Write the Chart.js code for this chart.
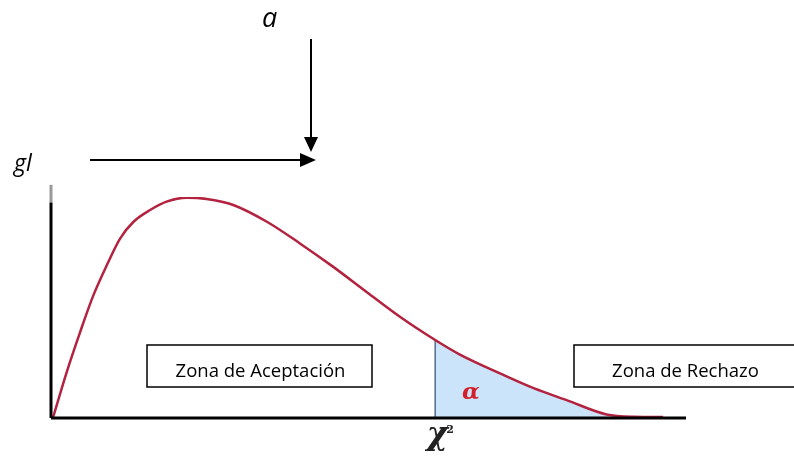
<!DOCTYPE html>
<html>
<head>
<meta charset="utf-8">
<script src="https://cdn.jsdelivr.net/npm/chart.js@4.4.1/dist/chart.umd.min.js"></script>
<style>
  html, body { margin: 0; padding: 0; background: #fff; }
  #chi { display: block; }
</style>
</head>
<body>
<canvas id="chi" width="794" height="456"></canvas>
<script>
// Curva chi-cuadrado (escala 0-100)
const curveX = [0.3, 2.5, 4.6, 6.7, 8.8, 10.9, 13.0, 15.6, 18.2, 21.4, 24.5, 28.7, 34.0, 39.2, 44.4, 49.8, 55.0, 60.5, 64.4, 70.7, 76.0, 81.2, 87.5, 91.7, 96.4];
const curveY = [0, 21.0, 39.0, 55.7, 69.2, 81.3, 88.8, 94.1, 97.9, 99.7, 99.1, 96.4, 88.8, 79.0, 68.5, 56.8, 45.7, 35.3, 28.7, 20.2, 13.5, 8.1, 1.6, 0.6, 0.5];

// Valor critico
const critX = 60.5;
const critY = 35.3;

// Ejes
const axisXEnd = 100;
const axisYTop = 105.5;
const axisYBlackTop = 97.5;

// Textos
const zoneLabels = ['Zona de Aceptación', 'Zona de Rechazo'];

const curvePoints = curveX.map((x, i) => ({ x: x, y: curveY[i] }));
const tailPoints = curvePoints.filter(p => p.x >= critX);

// Plugin para las anotaciones (flechas, cajas, letras)
const annotations = {
    id: 'annotations',
    afterDraw(chart) {
        const ctx = chart.ctx;
        const sx = chart.scales.x;
        ctx.save();

        // flecha vertical (a)
        ctx.strokeStyle = '#000';
        ctx.fillStyle = '#000';
        ctx.lineWidth = 2;
        ctx.beginPath();
        ctx.moveTo(311, 39);
        ctx.lineTo(311, 138);
        ctx.stroke();
        ctx.beginPath();
        ctx.moveTo(304, 137);
        ctx.lineTo(318, 137);
        ctx.lineTo(311, 152);
        ctx.closePath();
        ctx.fill();

        // flecha horizontal (gl)
        ctx.beginPath();
        ctx.moveTo(90, 160);
        ctx.lineTo(302, 160);
        ctx.stroke();
        ctx.beginPath();
        ctx.moveTo(300, 153);
        ctx.lineTo(316, 160);
        ctx.lineTo(300, 167);
        ctx.closePath();
        ctx.fill();

        ctx.textAlign = 'left';
        ctx.textBaseline = 'alphabetic';
        ctx.font = 'italic 27px "Open Sans"';
        ctx.fillText('a', 262, 27);
        ctx.font = 'italic 23px "Open Sans"';
        ctx.fillText('gl', 14, 171);

        // cajas de zonas
        const boxes = [
            { x: 147, y: 345, w: 225, h: 42, text: zoneLabels[0] },
            { x: 574, y: 345, w: 221, h: 42, text: zoneLabels[1] }
        ];
        ctx.lineWidth = 1.5;
        boxes.forEach(b => {
            ctx.fillStyle = '#fff';
            ctx.fillRect(b.x, b.y, b.w, b.h);
            ctx.strokeStyle = '#000';
            ctx.strokeRect(b.x, b.y, b.w, b.h);
            ctx.fillStyle = '#000';
            ctx.font = '18.5px "Open Sans"';
            ctx.textAlign = 'center';
            ctx.fillText(b.text, b.x + b.w / 2 + 1, 377);
        });

        // alfa dentro del area
        ctx.fillStyle = '#d3202a';
        ctx.font = 'italic bold 23px "DejaVu Serif"';
        ctx.textAlign = 'center';
        ctx.fillText('α', sx.getPixelForValue(critX + 5.6), 399);

        // chi cuadrado bajo el eje
        ctx.fillStyle = '#222';
        const cx = sx.getPixelForValue(critX);
        ctx.font = 'italic bold 32px "DejaVu Serif"';
        ctx.fillText('χ', cx + 2, 444);
        ctx.font = 'bold 11px "DejaVu Serif"';
        ctx.fillText('2', cx + 15, 433);

        ctx.restore();
    }
};

const ctx = document.getElementById('chi').getContext('2d');
new Chart(ctx, {
    type: 'line',
    data: {
        datasets: [
            {
                // area de rechazo
                data: tailPoints,
                borderWidth: 0,
                backgroundColor: 'rgb(204, 228, 250)',
                fill: 'origin',
                pointRadius: 0,
                cubicInterpolationMode: 'monotone',
                order: 5
            },
            {
                // linea del valor critico
                data: [{ x: critX, y: 0 }, { x: critX, y: critY }],
                borderColor: '#4f6d8c',
                borderWidth: 1.5,
                pointRadius: 0,
                fill: false,
                order: 4
            },
            {
                // curva
                data: curvePoints,
                borderColor: '#b3223f',
                borderWidth: 2.5,
                pointRadius: 0,
                fill: false,
                cubicInterpolationMode: 'monotone',
                order: 1
            },
            {
                // eje x
                data: [{ x: 0, y: 0 }, { x: axisXEnd, y: 0 }],
                borderColor: '#000',
                borderWidth: 3,
                pointRadius: 0,
                fill: false,
                clip: false,
                order: 0
            },
            {
                // eje y
                data: [{ x: 0, y: 0 }, { x: 0, y: axisYBlackTop }],
                borderColor: '#000',
                borderWidth: 3,
                pointRadius: 0,
                fill: false,
                clip: false,
                order: 0
            },
            {
                data: [{ x: 0, y: axisYBlackTop }, { x: 0, y: axisYTop }],
                borderColor: '#999',
                borderWidth: 3,
                pointRadius: 0,
                fill: false,
                clip: false,
                order: 0
            }
        ]
    },
    options: {
        responsive: false,
        animation: false,
        layout: { padding: { left: 51, right: 108, top: 197, bottom: 38 } },
        plugins: {
            legend: { display: false },
            tooltip: { enabled: false }
        },
        scales: {
            x: { type: 'linear', min: 0, max: 100, display: false },
            y: { min: 0, max: 100, display: false }
        }
    },
    plugins: [annotations]
});
</script>
</body>
</html>
